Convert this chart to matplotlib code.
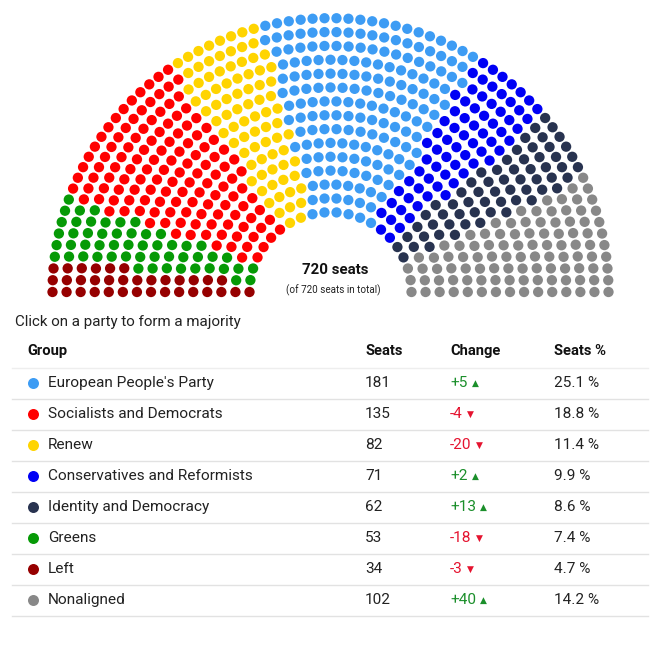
import numpy as np
import matplotlib.pyplot as plt

plt.rcParams['font.family'] = ['Roboto', 'DejaVu Sans']

# ---------------- data ----------------
parties = ["European People's Party", "Socialists and Democrats", "Renew",
           "Conservatives and Reformists", "Identity and Democracy", "Greens",
           "Left", "Nonaligned"]
seats = [181, 135, 82, 71, 62, 53, 34, 102]
changes = [5, -4, -20, 2, 13, -18, -3, 40]
colors = ["#3d9cf4", "#ff0000", "#ffd400", "#0000f5", "#283350", "#069a06",
          "#960000", "#888888"]
# seating order in the hemicycle, left to right
hemi_order = ["Left", "Greens", "Socialists and Democrats", "Renew",
              "European People's Party", "Conservatives and Reformists",
              "Identity and Democracy", "Nonaligned"]
header = ["Group", "Seats", "Change", "Seats %"]
title = "Click on a party to form a majority"

total = sum(seats)
W, H = 655, 645
fig = plt.figure(figsize=(W / 100, H / 100), dpi=100)
ax = fig.add_axes([0, 0, 1, 1])
ax.set_xlim(0, W)
ax.set_ylim(H, 0)
ax.axis('off')

# ---------------- hemicycle layout ----------------
n_rows = 15
cx, cy = 330.5, 292
r_out, r_in = 278, 81
yscale = 0.985
radii = np.linspace(r_out, r_in, n_rows)
target = total - n_rows
raw = radii * target / radii.sum()
cols = np.floor(raw).astype(int)
rem = target - cols.sum()
cols[np.argsort(-(raw - cols))[:rem]] += 1

slots = []
for i, (r, c) in enumerate(zip(radii, cols)):
    for k in range(c + 1):
        a = np.pi - k * np.pi / c
        slots.append((a, i, r))
slots.sort(key=lambda s: (-round(s[0], 9), s[1]))

seat_colors = []
for name in hemi_order:
    idx = parties.index(name)
    seat_colors += [colors[idx]] * seats[idx]

xs = [cx + r * np.cos(a) for a, i, r in slots]
ys = [cy - r * np.sin(a) * yscale for a, i, r in slots]
ax.scatter(xs, ys, s=(10.3 * 0.72) ** 2, c=seat_colors, linewidths=0, zorder=3)

ax.text(335, 270, f"{total} seats", ha='center', va='center', fontsize=10.8,
        fontweight='bold', color='#111111')
ax.text(333, 290, f"(of {total} seats in total)", ha='center', va='center',
        fontsize=7.1, color='#222222')

# ---------------- table ----------------
ax.text(15, 322, title, ha='left', va='center', fontsize=10.9, color='#222222')
hx = [27, 365, 450, 554]
for x, h in zip(hx, header):
    ax.text(x, 351, h, ha='left', va='center', fontsize=10.6, fontweight='bold',
            color='#111111')

line_col = '#e2e2e2'
ax.plot([12, 648], [368, 368], color='#eeeeee', lw=1)
y0, dy = 383, 31
green, red = '#1b8f2b', '#e5132f'
for k, (p, s, ch, c) in enumerate(zip(parties, seats, changes, colors)):
    y = y0 + k * dy
    ax.scatter([33], [y], s=(11 * 0.72) ** 2, color=c, linewidths=0)
    ax.text(48, y, p, ha='left', va='center', fontsize=11.1, color='#222222')
    ax.text(365, y, f"{s}", ha='left', va='center', fontsize=11.1, color='#222222')
    col = green if ch > 0 else red
    t = ax.text(450, y, f"{ch:+d}", ha='left', va='center',
                fontsize=11.1, color=col)
    ax.annotate('▲' if ch > 0 else '▼', xy=(1, 0.5), xycoords=t,
                xytext=(3, 0), textcoords='offset points', ha='left',
                va='center', fontsize=6.5, color=col,
                family=['DejaVu Sans'])
    ax.text(554, y, f"{s / total * 100:.1f} %", ha='left', va='center',
            fontsize=11.1, color='#222222')
    ax.plot([12, 648], [y + 16, y + 16], color=line_col, lw=1)

fig.savefig('out.png', dpi=100)
